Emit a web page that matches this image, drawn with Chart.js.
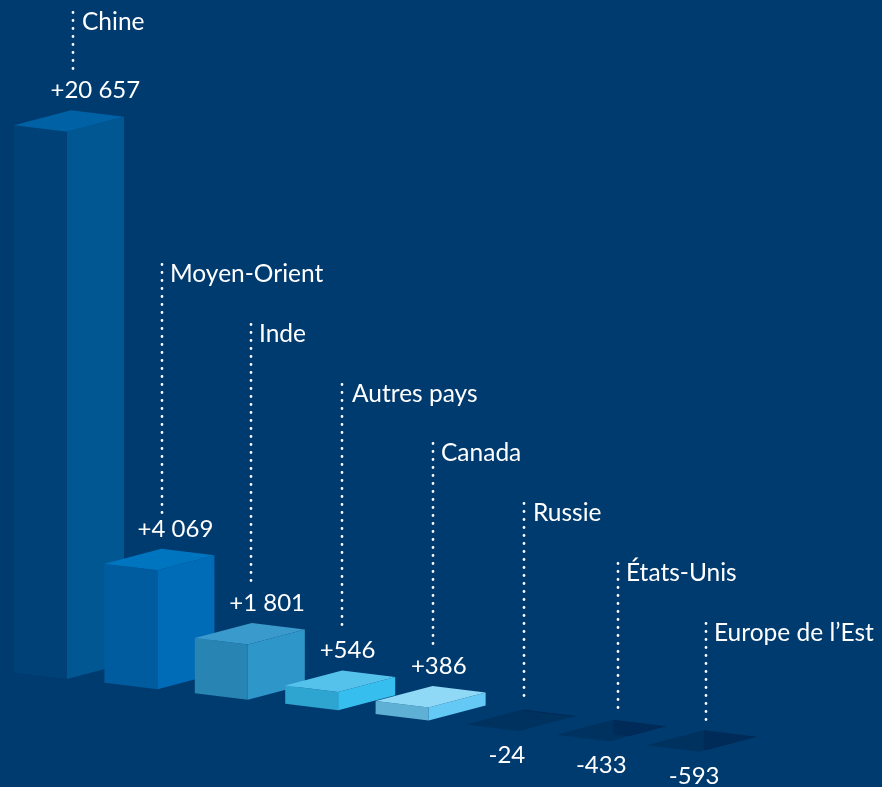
<!DOCTYPE html>
<html><head><meta charset="utf-8">
<style>html,body{margin:0;padding:0;background:#003B70;overflow:hidden}#w{position:relative;width:882px;height:787px}</style>
<script src="https://cdn.jsdelivr.net/npm/chart.js@4/dist/chart.umd.min.js"></script>
</head><body><div id="w"><canvas id="c" width="882" height="787"></canvas></div>
<script>
const categories = ["Chine","Moyen-Orient","Inde","Autres pays","Canada","Russie","États-Unis","Europe de l’Est"];
const values = [20657,4069,1801,546,386,-24,-433,-593];
const valueLabels = ["+20 657","+4 069","+1 801","+546","+386","-24","-433","-593"];
const leftColors = ["#004178","#005B9F","#2784B3","#2EA4D1","#5EB1D5","#00325F","#00325F","#00325F"];
const rightColors = ["#005792","#006CB7","#2F96CA","#36BEEE","#64C9F5","#002A58","#002A58","#002A58"];
const topColors = ["#0061A4","#0075BF","#3A9ACB","#55C2EC","#8FD8F6","#00325F","#00325F","#00325F"];

// annotation layout (text and leader placement only)
const annotationLayout = {
  labelY:[22.5,274.5,334.5,394.5,453.5,513.5,573.5,633.5],
  labelX:[82,170,259,352,441,533,626,714],
  stemX:[73,162,251,342,433,524,618,706],
  stemEnd:[69,511,579,626,643,698,710,720],
  valueOffset:[36.5,33.2,34.5,34.5,35.3,22.5,19.5,22]
};
const POWER = 0.939, STAGGER = 10.4;
const FONT = '24.5px Lato, "Open Sans", sans-serif', VALUE_FONT = '24px Lato, "Open Sans", sans-serif';

class PowerScale extends Chart.LinearScale {
  _f(v){ return Math.sign(v)*Math.pow(Math.abs(v),POWER); }
  getPixelForValue(v){ const a=this._f(this.min), b=this._f(this.max); return this.getPixelForDecimal((this._f(v)-a)/(b-a)); }
}
PowerScale.id = 'power';
PowerScale.defaults = Chart.LinearScale.defaults;
Chart.register(PowerScale);

function poly(ctx, pts, fill){ ctx.beginPath(); pts.forEach((p,i)=> i?ctx.lineTo(p[0],p[1]):ctx.moveTo(p[0],p[1])); ctx.closePath(); if(fill){ctx.fillStyle=fill; ctx.fill();} }

const boxes = { id:'boxes', afterDatasetsDraw(chart){
  const ctx=chart.ctx, x=chart.scales.x, y=chart.scales.y, y0=y.getPixelForValue(0), A=annotationLayout;
  values.forEach((v,i)=>{
    const cx=x.getPixelForValue(i), by=y0+i*STAGGER, h=y0-y.getPixelForValue(v);
    const L=cx-54.5, F=cx-1.5, B=cx+2.5, R=cx+55.5;
    const d=(px,py,t)=>[px,py-t];
    if(v>=0){
      poly(ctx,[d(L,by-6.5,0),d(F,by,0),d(F,by,h),d(L,by-6.5,h)],leftColors[i]);
      poly(ctx,[d(F,by,0),d(R,by-15,0),d(R,by-15,h),d(F,by,h)],rightColors[i]);
      poly(ctx,[d(L,by-6.5,h),d(F,by,h),d(R,by-15,h),d(B,by-21.5,h)],topColors[i]);
    } else {
      const dia=[[L,by-6.5],[F,by],[R,by-15],[B,by-21.5]];
      poly(ctx,dia,topColors[i]);
      ctx.save(); poly(ctx,dia); ctx.clip();
      poly(ctx,[[B,by-21.5],[R,by-15],[R,by-15-h],[B,by-21.5-h]],rightColors[i]);
      ctx.restore();
    }
    ctx.save();
    ctx.strokeStyle='#fff'; ctx.lineWidth=2.8; ctx.lineCap='round'; ctx.setLineDash([0,8]);
    ctx.beginPath(); ctx.moveTo(A.stemX[i],Math.floor(A.labelY[i])-9.5); ctx.lineTo(A.stemX[i],A.stemEnd[i]+2); ctx.stroke();
    ctx.restore();
    ctx.fillStyle='#fff'; ctx.textBaseline='middle'; ctx.textAlign='left';
    ctx.font=FONT;
    ctx.fillText(categories[i],A.labelX[i],A.labelY[i]);
    ctx.font=VALUE_FONT;
    const ty = v>=0 ? by-21.5-h-20 : by+24;
    ctx.fillText(valueLabels[i],L+A.valueOffset[i],ty);
  });
}};

new Chart(document.getElementById('c'),{
  type:'bar',
  data:{labels:categories,datasets:[{data:values,backgroundColor:'transparent',borderWidth:0}]},
  plugins:[boxes],
  options:{
    responsive:false,animation:false,devicePixelRatio:1,
    layout:{padding:{left:23.3,right:135.5,top:1,bottom:0}},
    plugins:{legend:{display:false},tooltip:{enabled:false},title:{display:false}},
    scales:{
      x:{display:false,offset:true},
      y:{type:'power',display:false,min:-3670,max:25950}
    }
  }
});
</script></body></html>
